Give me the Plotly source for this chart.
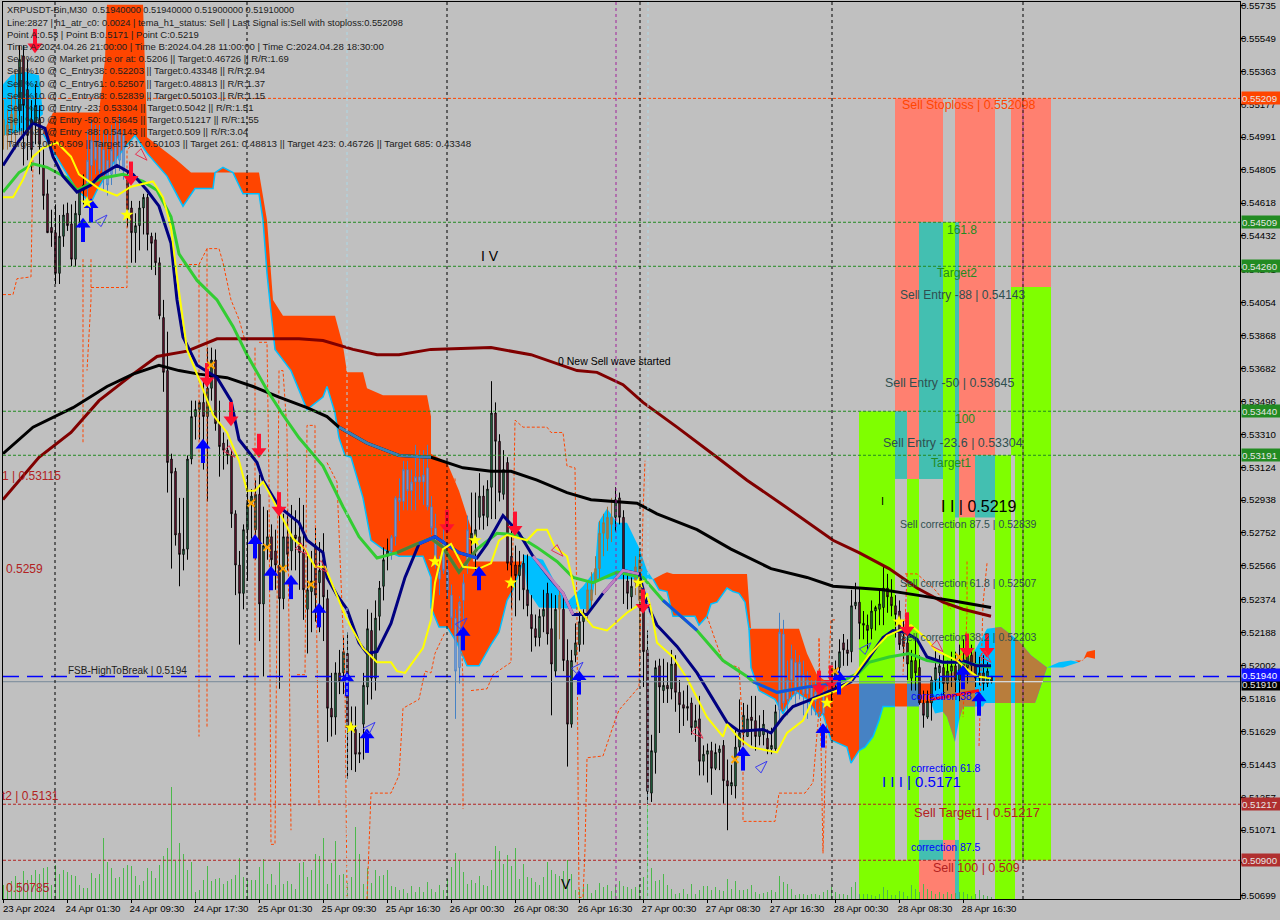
import numpy as np
import plotly.graph_objects as go

# ---------- price data, in units of 0.0001 ----------
opens = [5509,5500,5503,5506,5514,5545,5526,5509,5506,5509,
 5483,5467,5448,5445,5422,5443,5456,5450,5430,5455,
 5469,5470,5483,5497,5497,5492,5486,5478,5483,5486,
 5500,5475,5459,5445,5449,5459,5465,5443,5441,5428,
 5397,5367,5317,5310,5275,5263,5266,5317,5341,5345,
 5349,5341,5357,5373,5337,5326,5322,5319,5286,5257,
 5241,5277,5291,5277,5297,5235,5268,5273,5265,5257,
 5238,5273,5265,5274,5273,5264,5232,5242,5268,5247,
 5260,5238,5176,5171,5196,5196,5207,5167,5164,5151,
 5167,5188,5220,5193,5228,5245,5262,5265,5273,5295,
 5293,5311,5299,5304,5307,5304,5312,5290,5278,5249,
 5271,5254,5240,5227,5199,5237,5258,5271,5273,5284,
 5296,5284,5301,5343,5327,5297,5315,5262,5257,5251,
 5258,5243,5229,5221,5216,5228,5241,5221,5197,5232,
 5232,5203,5167,5206,5212,5225,5230,5243,5248,5255,
 5275,5272,5284,5284,5295,5284,5248,5239,5247,5260,
 5236,5209,5128,5151,5200,5186,5189,5187,5201,5185,
 5178,5177,5179,5165,5170,5146,5150,5152,5142,5151,
 5155,5135,5132,5132,5154,5162,5160,5171,5169,5160,
 5161,5159,5153,5153,5175,5218,5181,5192,5202,5188,
 5195,5184,5188,5180,5174,5173,5185,5186,5192,5199,
 5213,5209,5208,5234,5236,5224,5223,5221,5231,5232,
 5233,5244,5239,5234,5231,5216,5213,5193,5203,5199,
 5179,5171,5179,5192,5196,5199,5190,5197,5200,5192,
 5203,5199,5206,5200,5193,5196,5190,5194]
highs = [5520,5514,5523,5537,5551,5551,5543,5520,5529,5517,
 5492,5475,5458,5461,5455,5461,5462,5461,5463,5469,
 5478,5503,5509,5506,5506,5503,5503,5506,5509,5512,
 5503,5480,5463,5456,5463,5467,5467,5445,5445,5431,
 5407,5389,5320,5312,5295,5295,5319,5350,5350,5350,
 5362,5380,5380,5379,5350,5332,5328,5322,5288,5265,
 5280,5308,5300,5305,5308,5290,5288,5280,5277,5294,
 5286,5288,5291,5288,5295,5291,5262,5265,5278,5270,
 5275,5243,5196,5202,5209,5216,5219,5177,5177,5162,
 5196,5232,5230,5237,5248,5267,5272,5274,5296,5306,
 5316,5316,5311,5325,5322,5322,5325,5296,5286,5262,
 5278,5260,5246,5232,5240,5252,5285,5298,5298,5309,
 5302,5305,5361,5349,5331,5322,5318,5277,5268,5265,
 5263,5263,5240,5229,5232,5243,5247,5241,5240,5245,
 5241,5215,5209,5224,5232,5232,5247,5253,5262,5282,
 5286,5290,5295,5301,5298,5288,5254,5250,5262,5266,
 5243,5220,5161,5203,5204,5204,5202,5209,5206,5192,
 5186,5189,5182,5178,5183,5155,5156,5157,5156,5155,
 5158,5147,5144,5164,5181,5179,5178,5183,5183,5172,
 5175,5164,5165,5178,5230,5226,5203,5212,5209,5206,
 5203,5197,5192,5192,5181,5186,5190,5195,5203,5215,
 5218,5215,5243,5247,5244,5231,5229,5237,5234,5243,
 5256,5252,5249,5240,5237,5226,5220,5209,5215,5206,
 5186,5186,5194,5209,5206,5206,5203,5208,5208,5212,
 5215,5210,5212,5208,5205,5206,5202,5194]
lows = [5492,5492,5495,5492,5503,5483,5486,5480,5495,5478,
 5458,5445,5437,5416,5416,5437,5446,5426,5426,5448,
 5461,5463,5475,5478,5476,5469,5466,5472,5478,5480,
 5475,5448,5428,5428,5435,5444,5435,5424,5421,5396,
 5355,5298,5255,5268,5245,5254,5260,5314,5328,5328,
 5311,5293,5350,5333,5307,5311,5314,5278,5240,5212,
 5232,5248,5272,5260,5214,5194,5260,5249,5243,5187,
 5232,5254,5254,5254,5243,5226,5207,5219,5225,5219,
 5214,5157,5160,5161,5184,5184,5136,5141,5140,5145,
 5147,5178,5181,5186,5220,5237,5254,5260,5268,5282,
 5288,5288,5288,5288,5294,5291,5288,5274,5255,5240,
 5252,5238,5221,5170,5190,5225,5252,5262,5254,5277,
 5277,5279,5283,5283,5293,5294,5254,5232,5228,5237,
 5232,5228,5208,5211,5211,5219,5212,5172,5194,5215,
 5197,5143,5165,5202,5208,5212,5225,5232,5240,5248,
 5262,5265,5270,5276,5280,5235,5232,5232,5240,5210,
 5188,5122,5123,5139,5162,5179,5179,5181,5174,5162,
 5166,5169,5161,5157,5138,5138,5134,5127,5141,5141,
 5122,5107,5127,5125,5150,5155,5160,5155,5152,5155,
 5155,5150,5150,5152,5169,5175,5172,5181,5178,5181,
 5172,5170,5172,5172,5171,5172,5176,5180,5188,5192,
 5200,5200,5202,5232,5215,5215,5209,5215,5220,5223,
 5223,5230,5228,5216,5209,5203,5192,5186,5186,5178,
 5165,5170,5169,5186,5187,5183,5186,5188,5185,5180,
 5195,5190,5196,5188,5189,5186,5188,5190]
closes = [5500,5506,5512,5517,5543,5517,5500,5492,5517,5495,
 5466,5445,5445,5422,5443,5455,5449,5430,5456,5469,
 5472,5486,5497,5486,5480,5478,5472,5492,5503,5503,
 5480,5458,5445,5449,5459,5465,5444,5439,5428,5398,
 5366,5315,5309,5274,5263,5266,5317,5341,5345,5349,
 5341,5357,5373,5337,5324,5322,5319,5286,5257,5241,
 5277,5292,5296,5297,5235,5268,5273,5260,5257,5238,
 5273,5263,5273,5272,5264,5243,5243,5248,5240,5254,
 5239,5176,5171,5196,5191,5208,5165,5164,5150,5150,
 5189,5221,5193,5227,5244,5260,5265,5273,5295,5293,
 5311,5299,5304,5307,5304,5308,5290,5278,5257,5254,
 5254,5243,5227,5197,5236,5247,5277,5275,5277,5296,
 5285,5300,5343,5327,5298,5311,5258,5257,5251,5257,
 5243,5234,5221,5216,5228,5232,5218,5201,5232,5240,
 5203,5167,5203,5213,5225,5230,5243,5237,5255,5275,
 5281,5284,5280,5294,5284,5254,5241,5245,5256,5237,
 5208,5129,5152,5199,5188,5189,5187,5201,5185,5178,
 5176,5176,5165,5169,5146,5150,5152,5142,5151,5153,
 5135,5132,5134,5154,5162,5172,5170,5169,5160,5164,
 5167,5153,5155,5174,5219,5179,5192,5204,5184,5202,
 5184,5192,5180,5185,5173,5184,5186,5190,5198,5208,
 5209,5207,5234,5236,5224,5223,5220,5231,5233,5235,
 5244,5239,5234,5229,5212,5211,5201,5203,5196,5179,
 5172,5180,5192,5199,5200,5190,5197,5200,5192,5203,
 5199,5206,5200,5193,5196,5190,5197,5191]
volumes = [14,15,18,23,17,28,19,24,29,25,31,32,14,34,25,29,27,24,23,14,
 11,11,26,21,25,61,37,31,21,22,31,34,33,23,14,18,31,28,21,34,
 43,51,112,38,56,45,29,37,7,9,19,33,18,20,21,15,18,20,24,41,
 22,19,19,19,32,40,15,25,14,37,15,18,15,10,36,37,22,29,45,43,
 61,15,36,58,24,25,16,22,72,45,15,31,16,29,23,24,29,13,12,9,
 10,6,13,7,12,7,17,10,7,14,9,20,32,46,38,27,15,19,16,23,
 14,13,29,53,48,35,44,33,51,20,35,22,21,17,14,22,37,29,25,23,
 28,39,25,9,10,12,15,6,9,16,12,14,8,14,18,13,12,10,12,14,
 22,94,31,18,19,25,14,10,5,6,10,5,15,5,9,13,13,9,12,9,
 8,20,10,18,9,9,10,14,7,5,6,7,9,7,23,17,15,10,4,5,
 5,4,5,5,4,7,9,12,7,5,5,4,12,17,5,5,5,4,3,5,
 12,9,4,4,8,7,3,14,10,7,15,10,8,5,7,5,7,5,6,7,
 7,5,3,5,9,4,3,2]

tick_labels_x = ['23 Apr 2024','24 Apr 01:30','24 Apr 09:30','24 Apr 17:30','25 Apr 01:30','25 Apr 09:30',
 '25 Apr 16:30','26 Apr 00:30','26 Apr 08:30','26 Apr 16:30','27 Apr 00:30','27 Apr 08:30',
 '27 Apr 16:30','28 Apr 00:30','28 Apr 08:30','28 Apr 16:30']
tick_bars_x = [0,16,32,48,64,80,96,112,128,144,160,176,192,208,224,240]
tick_labels_y = ['0.55735','0.55549','0.55363','0.55177','0.54991','0.54805','0.54618','0.54432','0.54241',
 '0.54054','0.53868','0.53682','0.53496','0.53310','0.53124','0.52938','0.52752','0.52566','0.52374',
 '0.52188','0.52002','0.51816','0.51629','0.51443','0.51257','0.51071','0.50885','0.50699']

# moving averages: knots (bar, price)
black_x = [0,7.5,17.5,26,32.5,39,44,49,56,62.5,69,76,81,84,91,99,107,115,122,127,133.5,141,147,153.5,158.5,163.5,173.5,182,192,201,207.5,214,220,228.5,237,247]
black_y = [5320,5335,5346,5358,5365,5370,5367,5365,5363,5358,5352,5346,5341,5335,5326,5319,5318,5312,5310,5310,5305,5298,5294,5293,5292,5286,5277,5266,5255,5250,5245,5244,5243,5240,5237,5233]
maroon_x = [0,9,17,24,32.5,38.5,46,53.5,59,74,80,87.5,93.5,99,107,122,132,143.5,148.5,155,160,168.5,178.5,186,195,207.5,214,216.5,221.5,228.5,235,240,247]
maroon_y = [5294,5318,5332,5350,5365,5375,5378,5385,5385,5385,5384,5379,5376,5376,5379,5380,5376,5367,5366,5359,5349,5335,5318,5305,5291,5271,5264,5261,5255,5244,5236,5232,5228]
navy_x = [0,4,7.5,10.5,12.5,15,18.5,22,24,28.5,32.5,36,39,42,43.5,45,48.5,53.5,57,59,63.5,65,69,74,76,80,81,83.5,86,89,91,93.5,97,100.5,104,108,114,118.5,121,125,129,132.5,137,140,142.5,146,150,155,159,161,163.5,168.5,173.5,177.5,181,184,190,192,195,197.5,201,212,216,220,222.5,225.5,228.5,231,235,238.5,240,243.5,247]
navy_y = [5483,5497,5507,5504,5488,5477,5468,5472,5477,5483,5478,5469,5460,5439,5407,5386,5370,5363,5350,5328,5315,5305,5290,5281,5271,5264,5250,5240,5232,5213,5207,5208,5224,5250,5269,5273,5264,5261,5269,5285,5275,5262,5249,5241,5229,5229,5241,5254,5252,5235,5223,5211,5196,5181,5168,5163,5164,5162,5171,5177,5180,5191,5203,5216,5220,5219,5215,5205,5202,5202,5203,5200,5200]
yellow_x = [0,2.5,5,7.5,10,13.5,17,19,24,28.5,32,37.5,40,42,43.5,46,49,52.5,56,59,61,63,65,67,70,72.5,75.5,78,80.5,82.5,86,90,93.5,97,98.5,100.5,105,107,108,110,112,115,119,122,124,126,131,133.5,136,138,141,142.5,144,147.5,151,156,160,161,162,163.5,167.5,171,176,180,181,184,187,193.5,196,200,202.5,208.5,212,216.5,221,227,231,233,238.5,241,243.5,247]
yellow_y = [5465,5465,5475,5488,5493,5496,5488,5478,5470,5466,5471,5474,5465,5448,5420,5379,5362,5342,5332,5316,5299,5299,5304,5296,5283,5272,5266,5256,5256,5245,5226,5210,5202,5202,5197,5196,5210,5226,5247,5266,5269,5256,5255,5258,5271,5274,5271,5277,5277,5267,5262,5247,5232,5222,5220,5230,5236,5241,5232,5213,5205,5193,5171,5160,5167,5159,5154,5151,5162,5169,5181,5186,5192,5206,5217,5223,5215,5209,5203,5198,5194,5193]
green_x = [0,4,7.5,11,16,18.5,22,25,30,35,38.5,42,44,48.5,53.5,57.5,61,66,70,74,80,85,89,93.5,98.5,103.5,107,110,114,118.5,123.5,128.5,133.5,138.5,142.5,147.5,153.5,160,165,173.5,180,186,187.5,193.5,201,208.5,214,216.5,221.5,226.5,231,234,240,247]
green_y = [5468,5479,5484,5482,5476,5469,5473,5476,5478,5474,5469,5454,5433,5418,5407,5392,5376,5356,5342,5329,5313,5290,5273,5261,5264,5269,5272,5267,5253,5266,5275,5274,5267,5259,5250,5247,5253,5250,5237,5220,5203,5194,5191,5185,5188,5190,5196,5202,5205,5207,5203,5202,5202,5199]
signal_x = [232,244]
signal_y = [5181,5186]

# stepped, dashed envelope lines (None = gap)
dash_x = [0,2.5,3.5,7,7.5,None,22,31,31,32.5,None,44,49,51,54,55,57,59,60.5,None,20,20,None,22,22,21,None,49,49,None,51,51,None,
 63,63,None,64,66,66.5,67,68,69,70,71,72,None,73.5,75.5,76,78,78,79,None,81,83.5,85.5,86,None,
 91,92,97,99,100,104,105.5,107,108,110.5,None,113,115,115,None,117,121,122.5,127,128,130,136,137,140,141,143,143.5,143.8,144,145,145.5,146,150,153,154,159,160,160.5,None,
 176,180,184,185,185,193,194,200.5,202.5,204,204,205,206,207,208,None,226,225,None,225.5,228.5,233,237,None,241,241,240,None,246,245,244]
dash_y = [5410,5410,5419,5420,5486,None,5414,5414,5492,5495,None,5427,5427,5436,5436,5428,5407,5396,5384,None,5430,5326,None,5430,5407,5367,None,5427,5160,None,5436,5165,None,
 5380,5123,None,5383,5383,5305,5099,5099,5367,5367,5333,5107,None,5195,5195,5336,5336,5294,5121,None,5315,5304,5192,5068,None,
 5068,5128,5128,5138,5176,5181,5197,5196,5207,5219,None,5306,5192,5119,None,5186,5187,5195,5202,5339,5335,5335,5332,5332,5313,5312,5224,5122,5069,5069,5096,5148,5149,5169,5175,5188,5286,5316,None,
 5228,5202,5199,5162,5112,5112,5128,5128,5134,5175,5216,5094,5175,5226,5226,None,5252,5195,None,5252,5252,5243,5232,None,5259,5230,5171,None,5258,5235,5154]

# Ichimoku cloud outlines
o1_top_x = [10,12.5,24,25.5,26,35,36,36,43.5,47,64,66,67.5,70,83,85,86,90,91,95,106,107,107,111,114,117,117.5,130]
o1_top_y = [5501,5513,5513,5543,5574,5574,5503,5499,5486,5479,5479,5452,5407,5398,5398,5381,5366,5366,5357,5353,5353,5341,5320,5315,5299,5278,5259,5259]
o1_bot_x = [10,12,18.5,22,23.5,27.5,30,33,36,41,45,48,52.5,53,55,57.5,60,64,65,66,67,68,72,76,80,81,83,84,85.5,87,90,92,95,99,105,107,107,109,111,113.5,116,119,122,124,126,127.5,130]
o1_bot_y = [5501,5493,5469,5462,5469,5484,5492,5500,5490,5477,5460,5470,5470,5479,5482,5479,5467,5467,5452,5422,5400,5379,5367,5345,5352,5358,5343,5329,5319,5318,5295,5271,5266,5262,5262,5250,5233,5222,5222,5213,5200,5200,5212,5219,5237,5243,5259]
b1_top_x = [130,135,139,141,145,147,148,148.8,151,153.5,156,159,161,162.5]
b1_top_y = [5263,5260,5243,5236,5245,5251,5254,5281,5289,5281,5281,5267,5254,5249]
b1_bot_x = [130,131,134,147,148,162.5]
b1_bot_y = [5263,5243,5233,5232,5249,5249]
o2_top_x = [162.5,165,166,167.5,186,186.5,187]
o2_top_y = [5249,5252,5253,5252,5252,5236,5221]
o2_bot_x = [162.5,164,166,167.5,173,174,176,177,178.5,181,182.5,184,185.5,186.5,187]
o2_bot_y = [5249,5243,5242,5228,5228,5223,5228,5235,5236,5244,5242,5241,5236,5221,5221]
o3_top_x = [186.5,199,201,203.5,207,214]
o3_top_y = [5221,5221,5207,5195,5189,5190]
o3_bot_x = [186.5,187,189,193,195,197,198.5,201,204,205,207,211,212,214]
o3_bot_y = [5221,5199,5186,5181,5173,5182,5185,5181,5171,5173,5158,5154,5145,5152]
s1_top_x = [214,223]
s1_top_y = [5190,5190]
s1_bot_x = [214,215.5,217.5,219,220,223]
s1_bot_y = [5152,5154,5160,5169,5177,5177]
s2_x = [226,229]
o4_x = [223,226]
cloud_mid_y = [5190,5177]
o5_x = [229,232]
o5_y = [5190,5179]
r_top_x = [232,240,243,246,249.5,254,257,261]
r_top_y = [5191,5199,5209,5221,5222,5214,5206,5199]
r_bot_x = [232,233,235,236,238,239,240,245,245.5,258,258.5,261]
r_bot_y = [5179,5173,5174,5171,5157,5169,5177,5177,5179,5179,5182,5199]
brown_bands = [(235,238),(239,243),(248,252),(253,261)]
tail1_x = [261,264,267,269,265]
tail1_y = [5199,5202,5203,5202,5199]
tail2_x = [268,270,271,273,273,271,269]
tail2_y = [5203,5203,5208,5209,5204,5205,5202]
topleft_x = [0,2,5.5,9,10,5.5,0]
topleft_y = [5529,5534,5536,5534,5512,5503,5500]

# signal markers
up_x = [20,22,50,63,67,72,79,86,91,115,119,144,185,205,209,240,244]
up_y = [5447,5458,5322,5268,5250,5245,5229,5190,5158,5216,5250,5191,5148,5161,5191,5194,5179]
down_x = [8,32,51,57,64,69,111,128,160,204,207,226,241,246]
down_y = [5553,5478,5364,5342,5324,5291,5281,5280,5236,5190,5193,5223,5211,5211]
star_x = [21,31,87,108,118,127,159,206,224]
star_y = [5462,5455,5165,5259,5271,5247,5247,5179,5225]
cross_x = [52,62,66,70,77,183,208,239]
cross_y = [5370,5292,5267,5255,5246,5147,5197,5205]
hollow_up_x = [26,93,116,145,191,217]
hollow_up_y = [5455,5168,5227,5202,5146,5213]
hollow_dn_x = [36,58,76,81,140,175,235,247]
hollow_dn_y = [5486,5318,5263,5253,5262,5159,5208,5202]

# trade plan levels
stop_level = 0.552098
green_levels = [0.54509,0.5426,0.5344,0.53191]
red_levels = [0.51217,0.509]
fsb_level = 0.5194
bid_level = 0.5191
vlines_black = [13,61,111,159.25,207.25,255]
vlines_light = [86,161.25]
vlines_magenta = [153.25]

# plan bands: x0, x1, top, bottom, kind
AX_BOT = 0.50681
band_x0 = [214,223,223,223,226,226,229,229,229,229,235,235,238,238,238,239,239,243,243,248,252,252,252,253,253]
band_x1 = [223,226,226,226,229,229,235,235,235,235,238,238,239,239,239,243,243,248,248,252,253,253,253,262,262]
band_top = [.5344,.552098,.5344,.509,.552098,.53057,.552098,.54509,.51015,.509,.54509,.51015,.552098,.54509,.51015,.552098,.52839,.552098,.53191,.53191,.552098,.54143,.509,.552098,.54143]
band_bot = [AX_BOT,.5344,.53057,AX_BOT,.53057,AX_BOT,.54509,.53057,.509,AX_BOT,.51015,AX_BOT,.54509,.52839,AX_BOT,.52839,AX_BOT,.53191,.52839,AX_BOT,.54143,.53191,AX_BOT,.54143,.509]
band_kind = ['g','s','t','g','s','g','s','t','t','s','g','s','s','t','t','s','g','s','t','g','s','g','g','s','g']

info_lines = [
 'XRPUSDT-Bin,M30  0.51940000 0.51940000 0.51900000 0.51910000',
 'Line:2827 | h1_atr_c0: 0.0024 | tema_h1_status: Sell | Last Signal is:Sell with stoploss:0.552098',
 'Point A:0.53 | Point B:0.5171 | Point C:0.5219',
 'Time A:2024.04.26 21:00:00 | Time B:2024.04.28 11:00:00 | Time C:2024.04.28 18:30:00',
 'Sell %20 @ Market price or at: 0.5206 || Target:0.46726 || R/R:1.69',
 'Sell %10 @ C_Entry38: 0.52203 || Target:0.43348 || R/R:2.94',
 'Sell %10 @ C_Entry61: 0.52507 || Target:0.48813 || R/R:1.37',
 'Sell %10 @ C_Entry88: 0.52839 || Target:0.50103 || R/R:1.15',
 'Sell %10 @ Entry -23: 0.53304 || Target:0.5042 || R/R:1.51',
 'Sell %20 @ Entry -50: 0.53645 || Target:0.51217 || R/R:1.55',
 'Sell %20 @ Entry -88: 0.54143 || Target:0.509 || R/R:3.04',
 'Target 100: 0.509 || Target 161: 0.50103 || Target 261: 0.48813 || Target 423: 0.46726 || Target 685: 0.43348',
]
info_rows = [10,23,35,47,59,71,83,95,107,119,131,143]
info_sizes = [9.2,9.3,9.5,9.6,9.5,9.5,9.5,9.5,9.5,9.5,9.5,9.75]

# ---------- style ----------
BG='#C0C0C0'; ORANGE='#FF4500'; CYAN='#00BFFF'; BROWN='#B87D3C'; STEEL='#4682C4'
KIND={'s':'#FF8070','t':'#43BFB1','g':'#7FFF00'}
FONT='Liberation Sans'
PL,PR,PT,PB=3,1240,2,899
CENTER=0.125   # half a pixel, so one-pixel wicks stay crisp

def e4(v):
    return [None if a is None else a/1e4 for a in v]

fig=go.Figure()
def poly(xs,ys,color,axis='y'):
    fig.add_trace(go.Scatter(x=xs,y=e4(ys),mode='none',fill='toself',fillcolor=color,hoverinfo='skip',yaxis=axis))
def between(tx,ty,bx,by,color):
    poly(list(tx)+list(bx)[::-1],list(ty)+list(by)[::-1],color)

# cloud layer (primary price axis)
poly(topleft_x,topleft_y,CYAN)
between(o1_top_x,o1_top_y,o1_bot_x,o1_bot_y,ORANGE)
between(b1_top_x,b1_top_y,b1_bot_x,b1_bot_y,CYAN)
between(o2_top_x,o2_top_y,o2_bot_x,o2_bot_y,ORANGE)
between(o3_top_x,o3_top_y,o3_bot_x,o3_bot_y,ORANGE)
between(s1_top_x,s1_top_y,s1_bot_x,s1_bot_y,STEEL)
between(o4_x,[cloud_mid_y[0]]*2,o4_x,[cloud_mid_y[1]]*2,ORANGE)
between(s2_x,[cloud_mid_y[0]]*2,s2_x,[cloud_mid_y[1]]*2,STEEL)
between(o5_x,[o5_y[0]]*2,o5_x,[o5_y[1]]*2,ORANGE)
between(r_top_x,r_top_y,r_bot_x,r_bot_y,CYAN)
for a,b in brown_bands:
    xs=np.unique(np.r_[a,b,[v for v in r_top_x+r_bot_x if a<v<b]])
    between(xs,np.interp(xs,r_top_x,r_top_y),xs,np.interp(xs,r_bot_x,r_bot_y),BROWN)
poly(tail1_x,tail1_y,CYAN)
poly(tail2_x,tail2_y,ORANGE)
for ex,ey in [(o1_bot_x,o1_bot_y),(o2_bot_x,o2_bot_y),(o3_bot_x,o3_bot_y),(s1_bot_x,s1_bot_y)]:
    fig.add_trace(go.Scatter(x=ex,y=e4(ey),mode='lines',line=dict(color=CYAN,width=1.5),hoverinfo='skip'))

# volumes
fig.add_trace(go.Bar(x=list(range(len(volumes))),y=volumes,width=0.25,offset=0,marker=dict(color='#4CB84C',line=dict(width=0)),yaxis='y2',hoverinfo='skip'))

# candles
n=len(opens)
assert n==len(highs)==len(lows)==len(closes)==len(volumes)
steel_bars=set(range(21,31))|set(range(97,117))|set(range(194,207))
brown_bars=set(range(0,4))|set(range(146,153))|{139,158,159}
plain=[i for i in range(n) if i not in steel_bars and i not in brown_bars]
def candles(idx,line,up,down):
    fig.add_trace(go.Candlestick(x=[i+CENTER for i in idx],open=[opens[i]/1e4 for i in idx],high=[highs[i]/1e4 for i in idx],
        low=[lows[i]/1e4 for i in idx],close=[closes[i]/1e4 for i in idx],yaxis='y3',whiskerwidth=0,hoverinfo='skip',
        increasing=dict(line=dict(color=line,width=1),fillcolor=up),decreasing=dict(line=dict(color=line,width=1),fillcolor=down)))
candles(plain,'#000000','#3CB371','#B02050')
candles(sorted(steel_bars),STEEL,'#9AAEE8','#9AAEE8')
candles(sorted(brown_bars),'#A0703C',BROWN,BROWN)

def line(xs,ys,color,width,dash=None):
    fig.add_trace(go.Scatter(x=xs,y=e4(ys),mode='lines',yaxis='y3',hoverinfo='skip',connectgaps=False,line=dict(color=color,width=width,dash=dash)))
def seg(xs,ys,a,b,color,width=3):
    k=[i for i,v in enumerate(xs) if a<=v<=b]
    line([xs[i] for i in k],[ys[i] for i in k],color,width)

line(dash_x,dash_y,ORANGE,1,'3px,2px')
line(maroon_x,maroon_y,'#800000',3)
line(black_x,black_y,'#000000',3)
line(green_x,green_y,'#32CD32',3)
line(navy_x,navy_y,'#000080',3)
seg(black_x,black_y,84,107,'#3A80B8')
seg(green_x,green_y,98,118.5,'#4F7F3A')
seg(green_x,green_y,165,173.5,'#1450E0')
seg(green_x,green_y,187.5,208.5,'#1450E0')
seg(navy_x,navy_y,104,118.5,'#1450E0')
seg(navy_x,navy_y,132.5,142.5,'#C080C0')
seg(navy_x,navy_y,150,159,'#C080C0')
line(yellow_x,yellow_y,'#FFFF00',2)
line(signal_x,signal_y,'#FF1010',3)

def mk(xs,ys,sym,color,size,lw=0,dy=0,angle=0,lc=None):
    fig.add_trace(go.Scatter(x=xs,y=[v/1e4+dy for v in ys],mode='markers',yaxis='y3',hoverinfo='skip',
      marker=dict(symbol=sym,color=color,size=size,angle=angle,line=dict(width=lw,color=lc or color))))
mk(up_x,up_y,'line-ns','#0000FF',12,4,-0.00025)
mk(up_x,up_y,'triangle-up','#0000FF',13,0,0.00028)
mk(down_x,down_y,'line-ns','#FF1030',12,4,0.00025)
mk(down_x,down_y,'triangle-down','#FF1030',13,0,-0.00028)
mk(star_x,star_y,'star','#FFFF00',10)
mk(cross_x,cross_y,'x-thin','#FFA500',7,2)
mk(hollow_up_x,hollow_up_y,'arrow-open','#3A3AF0',13,1,0,45)
mk(hollow_dn_x,hollow_dn_y,'arrow-open','#E83050',13,1,0,135)

# shapes
shapes=[]
for a,b,t,u,k in zip(band_x0,band_x1,band_top,band_bot,band_kind):
    shapes.append(dict(type='rect',xref='x',yref='y',x0=a,x1=b,y0=u,y1=t,fillcolor=KIND[k],line=dict(width=0),layer='below'))
def h(p,c,d='3px,2px',w=1):
    shapes.append(dict(type='line',xref='paper',yref='y',x0=0,x1=1,y0=p,y1=p,line=dict(color=c,width=w,dash=d),layer='above'))
h(stop_level,ORANGE)
for p in green_levels: h(p,'#228B22')
for p in red_levels: h(p,'#B22222')
h(bid_level,'#778899','solid')
shapes.append(dict(type='line',xref='x',yref='y',x0=243,x1=260,y0=bid_level,y1=bid_level,line=dict(color='#F0F0F0',width=1),layer='above'))
h(fsb_level,'#0000FF','16px,8px',1.5)
def v(x,c,d='3px,3px',y0=0,y1=1,yref='paper'):
    shapes.append(dict(type='line',xref='x',yref=yref,x0=x,x1=x,y0=y0,y1=y1,line=dict(color=c,width=1,dash=d),layer='above'))
for x in vlines_black: v(x,'#000000')
for x in vlines_light: v(x,'#ADD8E6')
for x in vlines_magenta: v(x,'#A0209A')
v(255,'#9030B0','3px,3px',.509,stop_level,'y')

# text
def pxx(x): return (x-PL)/(PR-PL)
def pxy(y): return (PB-y)/(PB-PT)
ann=[]
def label(t,x,y,color='#000000',size=11,anchor='left'):
    ann.append(dict(text=t,xref='paper',yref='paper',x=pxx(x-2),y=pxy(y),xanchor=anchor,yanchor='middle',showarrow=False,
                    font=dict(family=FONT,size=size,color=color)))
for t,y,s in zip(info_lines,info_rows,info_sizes):
    label(t,7,y,'#202020',s)
SL='#2F4F4F'; FB='#B22222'; GR='#228B22'
for t,x,y,c,s in [
 ('Sell Stoploss | 0.552098',902,105,ORANGE,12.4),('161.8',947,230,GR,12),('Target2',937,273,GR,12),
 ('Sell Entry -88 | 0.54143',900,295,SL,12),('Sell Entry -50 | 0.53645',885,383,SL,12.4),('100',955,419,GR,12),
 ('Sell Entry -23.6 | 0.53304',883,443,SL,12.4),('Target1',931,463,GR,12),
 ('Sell correction 87.5 | 0.52839',900,524,SL,10.5),('Sell correction 61.8 | 0.52507',900,583,SL,10.5),
 ('Sell correction 38.2 | 0.52203',900,637,SL,10.5),('correction 38.2',911,696,'#0000FF',10.5),
 ('correction 61.8',911,768,'#0000FF',10.5),('correction 87.5',911,847,'#0000FF',10.5),
 ('Sell Target1 | 0.51217',914,812,FB,13),('Sell 100 | 0.509',933,868,FB,12.5),
 ('I I | 0.5219',941,507,'#000000',16),('I I I | 0.5171',882,781,'#0000FF',15),('I',881,501,'#000000',11),
 ('I V',481,256,'#000000',14),('V',561,884,'#000000',14),('0 New Sell wave started',558,361,'#000000',10.5),
 ('FSB-HighToBreak | 0.5194',68,670,'#202020',10),('1 | 0.53115',2,476,FB,12),('0.5259',6,569,FB,12),
 ('t2 | 0.5131',2,796,FB,12),('0.50785',6,888,FB,12)]:
    label(t,x,y,c,s)
for t,p,c,tc in [('0.55209',stop_level,ORANGE,'#E6E6E6'),('0.54509',.54509,GR,'#E6E6E6'),('0.54260',.5426,GR,'#E6E6E6'),('0.53440',.5344,GR,'#E6E6E6'),('0.53191',.53191,GR,'#E6E6E6'),
              ('0.51217',.51217,'#B03030','#E6E6E6'),('0.50900',.509,'#B03030','#E6E6E6'),('0.51910',.51895,'#000000','#E6E6E6'),('0.51940',.5195,'#1414FF','#FFFFFF')]:
    ann.append(dict(text=t,xref='paper',yref='y',x=1.0008,y=p,xanchor='left',yanchor='middle',showarrow=False,width=39,height=12,
                    align='left',bgcolor=c,borderpad=0,font=dict(family=FONT,size=9.7,color=tc)))

rng=[0.50681,0.55755]
fig.update_layout(width=1280,height=920,margin=dict(l=PL,r=1280-PR,t=PT,b=920-PB,autoexpand=False),paper_bgcolor=BG,plot_bgcolor=BG,
  showlegend=False,shapes=shapes,annotations=ann,barmode='overlay',boxgap=0.5,dragmode=False,
  font=dict(family=FONT,size=10.5,color='#000000'),
  xaxis=dict(range=[0,309.25],tickvals=tick_bars_x,ticktext=tick_labels_x,ticks='outside',ticklen=3,tickcolor='#000',showgrid=False,zeroline=False,automargin=False,
     rangeslider=dict(visible=False),showline=True,linecolor='#000',linewidth=1,mirror=True,ticklabelshift=26,ticklabelstandoff=-3,tickangle=0,ticklabeloverflow='allow',tickfont=dict(family=FONT,size=9.7,color='#000')),
  yaxis=dict(range=rng,side='right',tickvals=[float(t) for t in tick_labels_y],ticktext=tick_labels_y,ticks='outside',ticklen=4,tickcolor='#000',automargin=False,
     ticklabelstandoff=-6,ticklabeloverflow='allow',showgrid=False,zeroline=False,showline=True,linecolor='#000',linewidth=1,mirror=True,tickfont=dict(family=FONT,size=9.7,color='#000')),
  yaxis2=dict(range=[0,PB-PT],overlaying='y',visible=False,showgrid=False,zeroline=False),
  yaxis3=dict(range=rng,overlaying='y',visible=False,showgrid=False,zeroline=False))
fig.write_html('out.html',config=dict(displayModeBar=False,staticPlot=True),post_script="document.body.style.margin='0';document.body.style.overflow='hidden';")
